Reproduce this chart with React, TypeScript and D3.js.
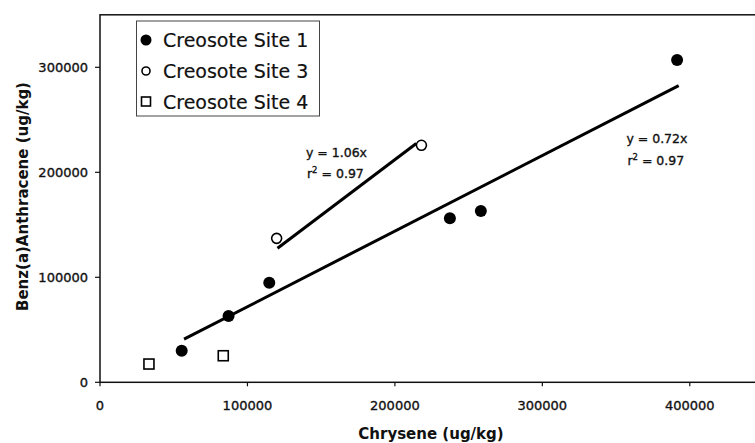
import React from 'react'
import { scaleLinear, line } from 'd3'

// Chrysene (x) vs Benz(a)Anthracene (y), ug/kg
const site1X = [55400, 87200, 114800, 237300, 258300, 391400]
const site1Y = [30100, 63100, 94900, 156200, 163100, 307000]
const site3X = [119800, 218000]
const site3Y = [137100, 225700]
const site4X = [33200, 83600]
const site4Y = [17400, 25300]

// fitted lines through the origin: slope and x-extent
const fitSlopes = [0.72, 1.06]
const fitRanges = [[57000, 392500], [120400, 214500]]
const fitLabels = [['y = 0.72x', '0.97'], ['y = 1.06x', '0.97']]
const fitLabelAt = [[357000, 227900], [139700, 214600]]

const legendLabels = ['Creosote Site 1', 'Creosote Site 3', 'Creosote Site 4']
const xTicks = [0, 100000, 200000, 300000, 400000]
const yTicks = [0, 100000, 200000, 300000]

const W = 755
const H = 443
const font = '"DejaVu Sans", Arial, sans-serif'

const App = () => {
    const xScale = scaleLinear().domain([0, 450000]).range([100, 763.5])
    const yScale = scaleLinear().domain([0, 350000]).range([382.3, 14.8])

    const fitLine = line<number>()
        .x(d => xScale(d[0]))
        .y(d => yScale(d[1]))

    const x0 = xScale(0)
    const y0 = yScale(0)

    return (
        <div style={{ position: 'absolute', left: 0, top: 0 }}>
            <svg width={W} height={H} style={{ display: 'block', background: '#fff' }} fontFamily={font} fill='#111'>
                {/* plot frame */}
                <rect x={x0} y={yScale(350000)} width={xScale(450000) - x0} height={y0 - yScale(350000)}
                    fill='none' stroke='#111' strokeWidth={1.5} />

                {/* y axis */}
                {yTicks.map(t => (
                    <g key={'y' + t}>
                        <line x1={x0 - 5} x2={x0} y1={yScale(t)} y2={yScale(t)} stroke='#111' strokeWidth={1.2} />
                        <text x={x0 - 12} y={yScale(t)} dy='0.36em' textAnchor='end' fontSize={13}
                            stroke='#111' strokeWidth={0.35}>{t}</text>
                    </g>
                ))}

                {/* x axis */}
                {xTicks.map(t => (
                    <g key={'x' + t}>
                        <line x1={xScale(t)} x2={xScale(t)} y1={y0} y2={y0 + 4} stroke='#111' strokeWidth={1.2} />
                        <text x={xScale(t)} y={y0 + 27.5} textAnchor='middle' fontSize={13}
                            stroke='#111' strokeWidth={0.35}>{t}</text>
                    </g>
                ))}

                <text x={431} y={439} textAnchor='middle' fontSize={15} fontWeight='bold'>Chrysene (ug/kg)</text>
                <text transform={`translate(28,${196.5}) rotate(-90)`} textAnchor='middle' fontSize={15} fontWeight='bold'>
                    Benz(a)Anthracene (ug/kg)
                </text>

                {/* fit lines */}
                {fitSlopes.map((s, i) => (
                    <path key={'f' + i}
                        d={fitLine(fitRanges[i].map(x => [x, x * s])) || ''}
                        fill='none' stroke='#000' strokeWidth={3} />
                ))}
                {fitLabels.map((lab, i) => (
                    <g key={'l' + i} fontSize={12.5} stroke='#111' strokeWidth={0.35}>
                        <text x={xScale(fitLabelAt[i][0])} y={yScale(fitLabelAt[i][1])}>{lab[0]}</text>
                        <text x={xScale(fitLabelAt[i][0]) + 1} y={yScale(fitLabelAt[i][1]) + 21.5}>
                            r<tspan dy={-5} fontSize={8.5}>2</tspan><tspan dy={5}>{' = ' + lab[1]}</tspan>
                        </text>
                    </g>
                ))}

                {/* Site 1 */}
                {site1X.map((x, i) => (
                    <circle key={'s1' + i} cx={xScale(x)} cy={yScale(site1Y[i])} r={6} fill='#000' />
                ))}
                {/* Site 3 */}
                {site3X.map((x, i) => (
                    <circle key={'s3' + i} cx={xScale(x)} cy={yScale(site3Y[i])} r={5} fill='#fff' stroke='#000' strokeWidth={1.6} />
                ))}
                {/* Site 4 */}
                {site4X.map((x, i) => (
                    <rect key={'s4' + i} x={xScale(x) - 5} y={yScale(site4Y[i]) - 5} width={10} height={10}
                        fill='#fff' stroke='#000' strokeWidth={1.6} />
                ))}

                {/* legend */}
                <g>
                    <rect x={136.5} y={21} width={183} height={95} fill='#fff' stroke='#444' strokeWidth={1} />
                    <circle cx={146} cy={40} r={5.5} fill='#000' />
                    <circle cx={146} cy={71} r={4} fill='#fff' stroke='#000' strokeWidth={1.6} />
                    <rect x={141.5} y={97} width={9} height={9} fill='#fff' stroke='#000' strokeWidth={1.6} />
                    {legendLabels.map((l, i) => (
                        <text key={l} x={163} y={47 + i * 31} fontSize={19} stroke='#111' strokeWidth={0.2}>{l}</text>
                    ))}
                </g>
            </svg>
        </div>
    )
}

export default App
